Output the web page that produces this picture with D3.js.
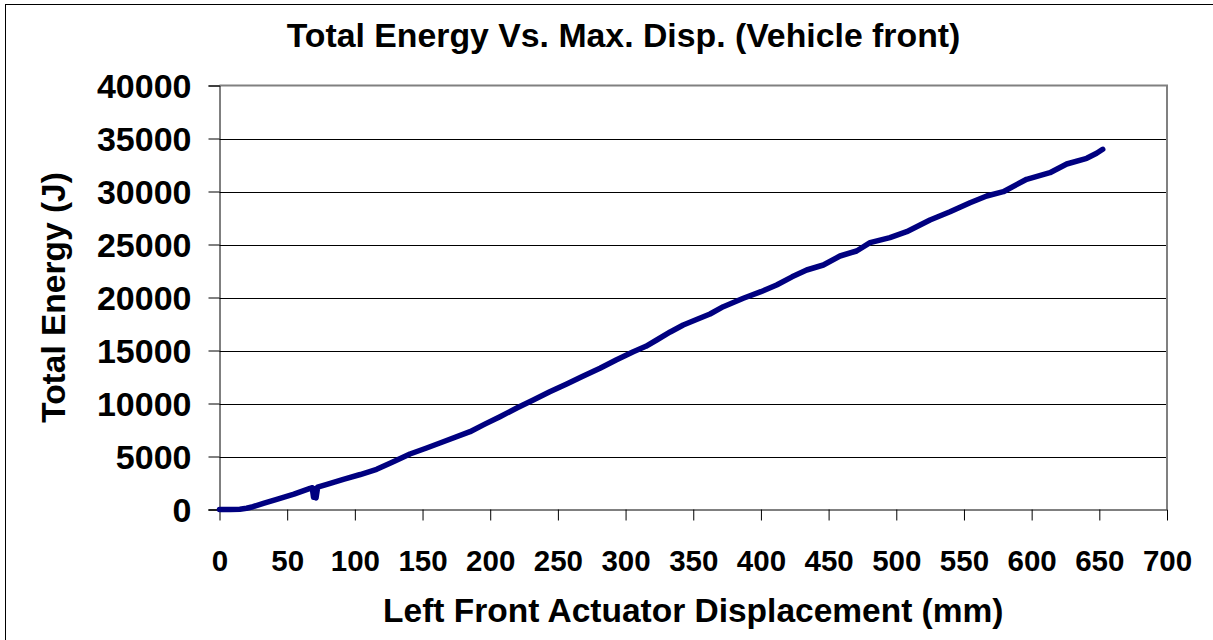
<!DOCTYPE html>
<html>
<head>
<meta charset="utf-8">
<script src="https://cdn.jsdelivr.net/npm/d3@7"></script>
<style>
  html, body { margin: 0; padding: 0; background: #fff; }
  svg { display: block; }
  text { font-family: "Liberation Sans", Arial, sans-serif; font-weight: bold; fill: #000; }
</style>
</head>
<body>
<svg id="chart" width="1213" height="640"></svg>
<script>
// ---- Data ----
const titleText = "Total Energy Vs. Max. Disp. (Vehicle front)";
const xTitle = "Left Front Actuator Displacement (mm)";
const yTitle = "Total Energy (J)";
const xTicks = [0, 50, 100, 150, 200, 250, 300, 350, 400, 450, 500, 550, 600, 650, 700];
const yTicks = [0, 5000, 10000, 15000, 20000, 25000, 30000, 35000, 40000];
const displacement = [0, 8, 15, 20, 24.7, 33, 42.3, 55, 66.9, 68.5, 69.5, 70.5, 71.3, 72.5, 80, 91.5, 104, 116.1, 128, 140.7, 153, 165.3, 185.1, 196, 207.2, 220, 231.8, 244, 256.5, 268, 281.1, 293, 305.7, 315, 323, 333, 342.6, 352, 362.4, 372.2, 387, 400, 411.6, 423, 433.8, 446.1, 458.4, 470.7, 480.6, 495.3, 507.7, 524.9, 539.7, 554.5, 566.8, 579.1, 596.3, 613.5, 625.9, 640.7, 648, 652.5];
const energy = [0, 0, 30, 120, 264, 600, 962, 1450, 2000, 2050, 1150, 1950, 1085, 2100, 2400, 2850, 3300, 3792, 4480, 5236, 5800, 6396, 7340, 8050, 8755, 9600, 10330, 11100, 11840, 12550, 13320, 14100, 14887, 15400, 15990, 16750, 17405, 17900, 18443, 19132, 19925, 20550, 21180, 21950, 22594, 23066, 23915, 24387, 25170, 25641, 26207, 27311, 28094, 28943, 29575, 29981, 31151, 31774, 32594, 33132, 33604, 33981];

// ---- Layout ----
const svg = d3.select("#chart");
const plotL = 219.5, plotR = 1167, plotT = 85.5, plotB = 509.5;

const x = d3.scaleLinear().domain([0, 700]).range([plotL, plotR]);
const y = d3.scaleLinear().domain([0, 40000]).range([plotB, plotT]);

svg.append("rect").attr("width", 1213).attr("height", 640).attr("fill", "#fff");
// outer chart border
svg.append("rect").attr("x", 5.5).attr("y", 4.5).attr("width", 1400).attr("height", 800)
  .attr("fill", "none").attr("stroke", "#000").attr("stroke-width", 1);

// gridlines
svg.append("g").selectAll("line").data(yTicks.filter(d => d > 0 && d < 40000)).join("line")
  .attr("x1", plotL).attr("x2", plotR)
  .attr("y1", d => Math.round(y(d)) + 0.5).attr("y2", d => Math.round(y(d)) + 0.5)
  .attr("stroke", "#000").attr("stroke-width", 1);

// plot border (top & right, gray)
svg.append("path")
  .attr("d", `M${plotL},${plotT}H${plotR}V${plotB}`)
  .attr("fill", "none").attr("stroke", "#808080").attr("stroke-width", 2);

// axes
const yAxis = d3.axisLeft(y).tickValues(yTicks).tickSize(11).tickPadding(17).tickFormat(d3.format("d"));
const gy = svg.append("g").attr("transform", `translate(${plotL},0)`).call(yAxis);
gy.select(".domain").attr("stroke", "#000");
gy.selectAll(".tick line").attr("stroke", "#000");
gy.selectAll(".tick text").style("font-size", "34px").attr("dy", "0.36em");

const xAxis = d3.axisBottom(x).tickValues(xTicks).tickSize(11).tickPadding(30).tickFormat(d3.format("d"));
const gx = svg.append("g").attr("transform", `translate(0,${plotB})`).call(xAxis);
gx.select(".domain").attr("stroke", "#000").attr("d", `M${plotL - 11},0.5H${plotR}`);
gx.selectAll(".tick line").attr("stroke", "#000");
gx.selectAll(".tick text").style("font-size", "29.5px").attr("dy", "0.71em");

svg.selectAll("g").attr("font-family", null).attr("font-size", null);

// data line
const line = d3.line().x((d, i) => x(displacement[i])).y(d => y(d));
svg.append("path").datum(energy)
  .attr("d", line)
  .attr("fill", "none")
  .attr("stroke", "#000080")
  .attr("stroke-width", 5.5)
  .attr("stroke-linejoin", "round")
  .attr("stroke-linecap", "round");

// titles
svg.append("text").attr("x", 623.5).attr("y", 47).attr("text-anchor", "middle")
  .style("font-size", "33.8px").text(titleText);
svg.append("text").attr("x", 693.3).attr("y", 621.5).attr("text-anchor", "middle")
  .style("font-size", "33.5px").text(xTitle);
svg.append("text").attr("transform", "translate(65,297.5) rotate(-90)").attr("text-anchor", "middle")
  .style("font-size", "33.5px").text(yTitle);
</script>
</body>
</html>
